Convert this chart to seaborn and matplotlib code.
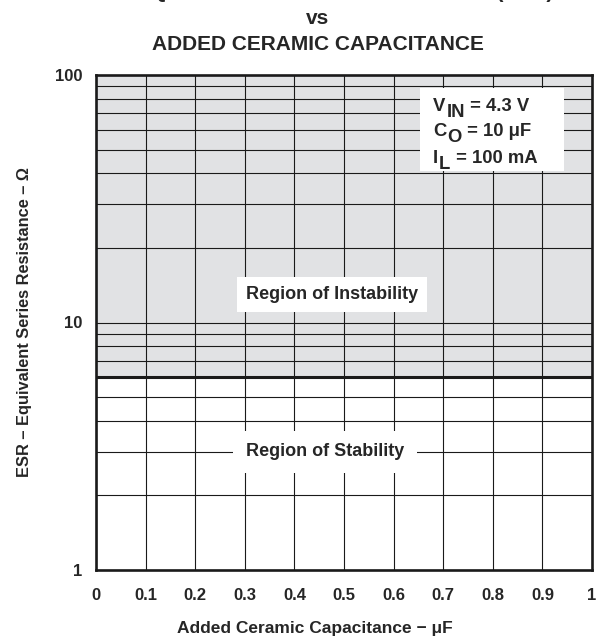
import numpy as np
import pandas as pd
import matplotlib
matplotlib.use("Agg")
import matplotlib.pyplot as plt
import seaborn as sns
from matplotlib.patches import Rectangle
from matplotlib.transforms import offset_copy
from matplotlib.ticker import FixedLocator, FixedFormatter, NullFormatter, LogLocator

# ---- data ----
cap_range = [0.0, 1.0]                 # added ceramic capacitance, uF
esr_boundary = [6.0, 6.0]              # stability boundary, ohm
esr_top = [100.0, 100.0]
x_ticks = [0, 0.1, 0.2, 0.3, 0.4, 0.5, 0.6, 0.7, 0.8, 0.9, 1.0]
x_tick_labels = ["0", "0.1", "0.2", "0.3", "0.4", "0.5", "0.6", "0.7", "0.8", "0.9", "1"]
y_ticks = [1, 10, 100]
y_tick_labels = ["1", "10", "100"]
cond_symbols = ["V", "C", "I"]
cond_subscripts = ["IN", "O", "L"]
cond_values = [" = 4.3 V", " = 10 μF", " = 100 mA"]

sns.set_theme(style="white")
plt.rcParams["font.family"] = ["Liberation Sans", "DejaVu Sans"]
plt.rcParams["font.weight"] = "bold"

df = pd.DataFrame({"cap": cap_range, "esr": esr_boundary})

fig = plt.figure(figsize=(6.03, 6.39), dpi=100)
ax = fig.add_axes([96 / 603, 1 - 570 / 639, 496 / 603, 495 / 639])

ax.set_yscale("log")
ax.set_xlim(0, 1)
ax.set_ylim(1, 100)

# shaded instability region
ax.fill_between(cap_range, esr_boundary, esr_top, color="#e1e2e4", zorder=0, linewidth=0)

# grid
ax.xaxis.set_major_locator(FixedLocator(x_ticks))
ax.xaxis.set_major_formatter(FixedFormatter(x_tick_labels))
ax.yaxis.set_major_locator(FixedLocator(y_ticks))
ax.yaxis.set_major_formatter(FixedFormatter(y_tick_labels))
ax.yaxis.set_minor_locator(LogLocator(base=10, subs=np.arange(2, 10)))
ax.yaxis.set_minor_formatter(NullFormatter())
ax.grid(True, which="both", axis="both", color="#1a1a1a", linewidth=0.8, zorder=1)
ax.set_axisbelow(True)

# boundary line
sns.lineplot(data=df, x="cap", y="esr", ax=ax, color="#1a1a1a", linewidth=2.2, zorder=3)

for s in ax.spines.values():
    s.set_linewidth(1.9)
    s.set_color("#1a1a1a")
    s.set_zorder(4)

ax.tick_params(axis="both", which="both", length=0, labelsize=12)
ax.tick_params(axis="x", pad=13)
ax.tick_params(axis="y", pad=10)
for lab in ax.get_xticklabels() + ax.get_yticklabels():
    lab.set_fontweight("bold")

ax.set_xlabel("Added Ceramic Capacitance − μF", fontsize=12.5, fontweight="bold", labelpad=13)
ax.xaxis.set_label_coords((315 - 96) / 496, -0.103)
ax.xaxis.label.set_va("top")
ax.set_ylabel("ESR – Equivalent Series Resistance – Ω", fontsize=11.8, fontweight="bold", labelpad=16)

# region labels
ax.text(0.476, 13.0, "Region of Instability", fontsize=13, fontweight="bold",
        ha="center", va="center", zorder=5,
        bbox=dict(boxstyle="square,pad=0.5", facecolor="white", edgecolor="none"))
ax.text(0.462, 3.0, "Region of Stability", fontsize=13, fontweight="bold",
        ha="center", va="center", zorder=5,
        bbox=dict(boxstyle="square,pad=0.7", facecolor="white", edgecolor="none"))

# conditions box
ax.add_patch(Rectangle(((420 - 96) / 496, (570 - 171) / 495), 144 / 496, 83 / 495,
                       transform=ax.transAxes, facecolor="white", edgecolor="none", zorder=5))
fig.canvas.draw()
renderer = fig.canvas.get_renderer()
x0 = (433 - 96) / 496
baselines = [(570 - 111) / 495, (570 - 136) / 495, (570 - 163) / 495]
fs = 13.3
for sym, sub, val, yb in zip(cond_symbols, cond_subscripts, cond_values, baselines):
    t1 = ax.text(x0, yb, sym, fontsize=fs, fontweight="bold", ha="left", va="baseline",
                 transform=ax.transAxes, zorder=6)
    w1 = t1.get_window_extent(renderer).width
    tr2 = offset_copy(ax.transAxes, fig=fig, x=w1 * 72 / fig.dpi + 0.8, y=-4.0, units="points")
    t2 = ax.text(x0, yb, sub, fontsize=fs, fontweight="bold", ha="left", va="baseline",
                 transform=tr2, zorder=6)
    w2 = t2.get_window_extent(renderer).width
    tr3 = offset_copy(ax.transAxes, fig=fig, x=(w1 + w2) * 72 / fig.dpi + 0.8, y=0, units="points")
    ax.text(x0, yb, val, fontsize=fs, fontweight="bold", ha="left", va="baseline",
            transform=tr3, zorder=6)

# title
cx = 318 / 603
fig.text(553 / 603, 1 + 2 / 639, "EQUIVALENT SERIES RESISTANCE (ESR)", fontsize=15,
         fontweight="bold", ha="right", va="baseline")
fig.text(cx, 1 - 19 / 639, "vs", fontsize=15, fontweight="bold", ha="center", va="center")
fig.text(cx, 1 - 45 / 639, "ADDED CERAMIC CAPACITANCE", fontsize=15, fontweight="bold",
         ha="center", va="center")

fig.savefig("out.png", dpi=100)
